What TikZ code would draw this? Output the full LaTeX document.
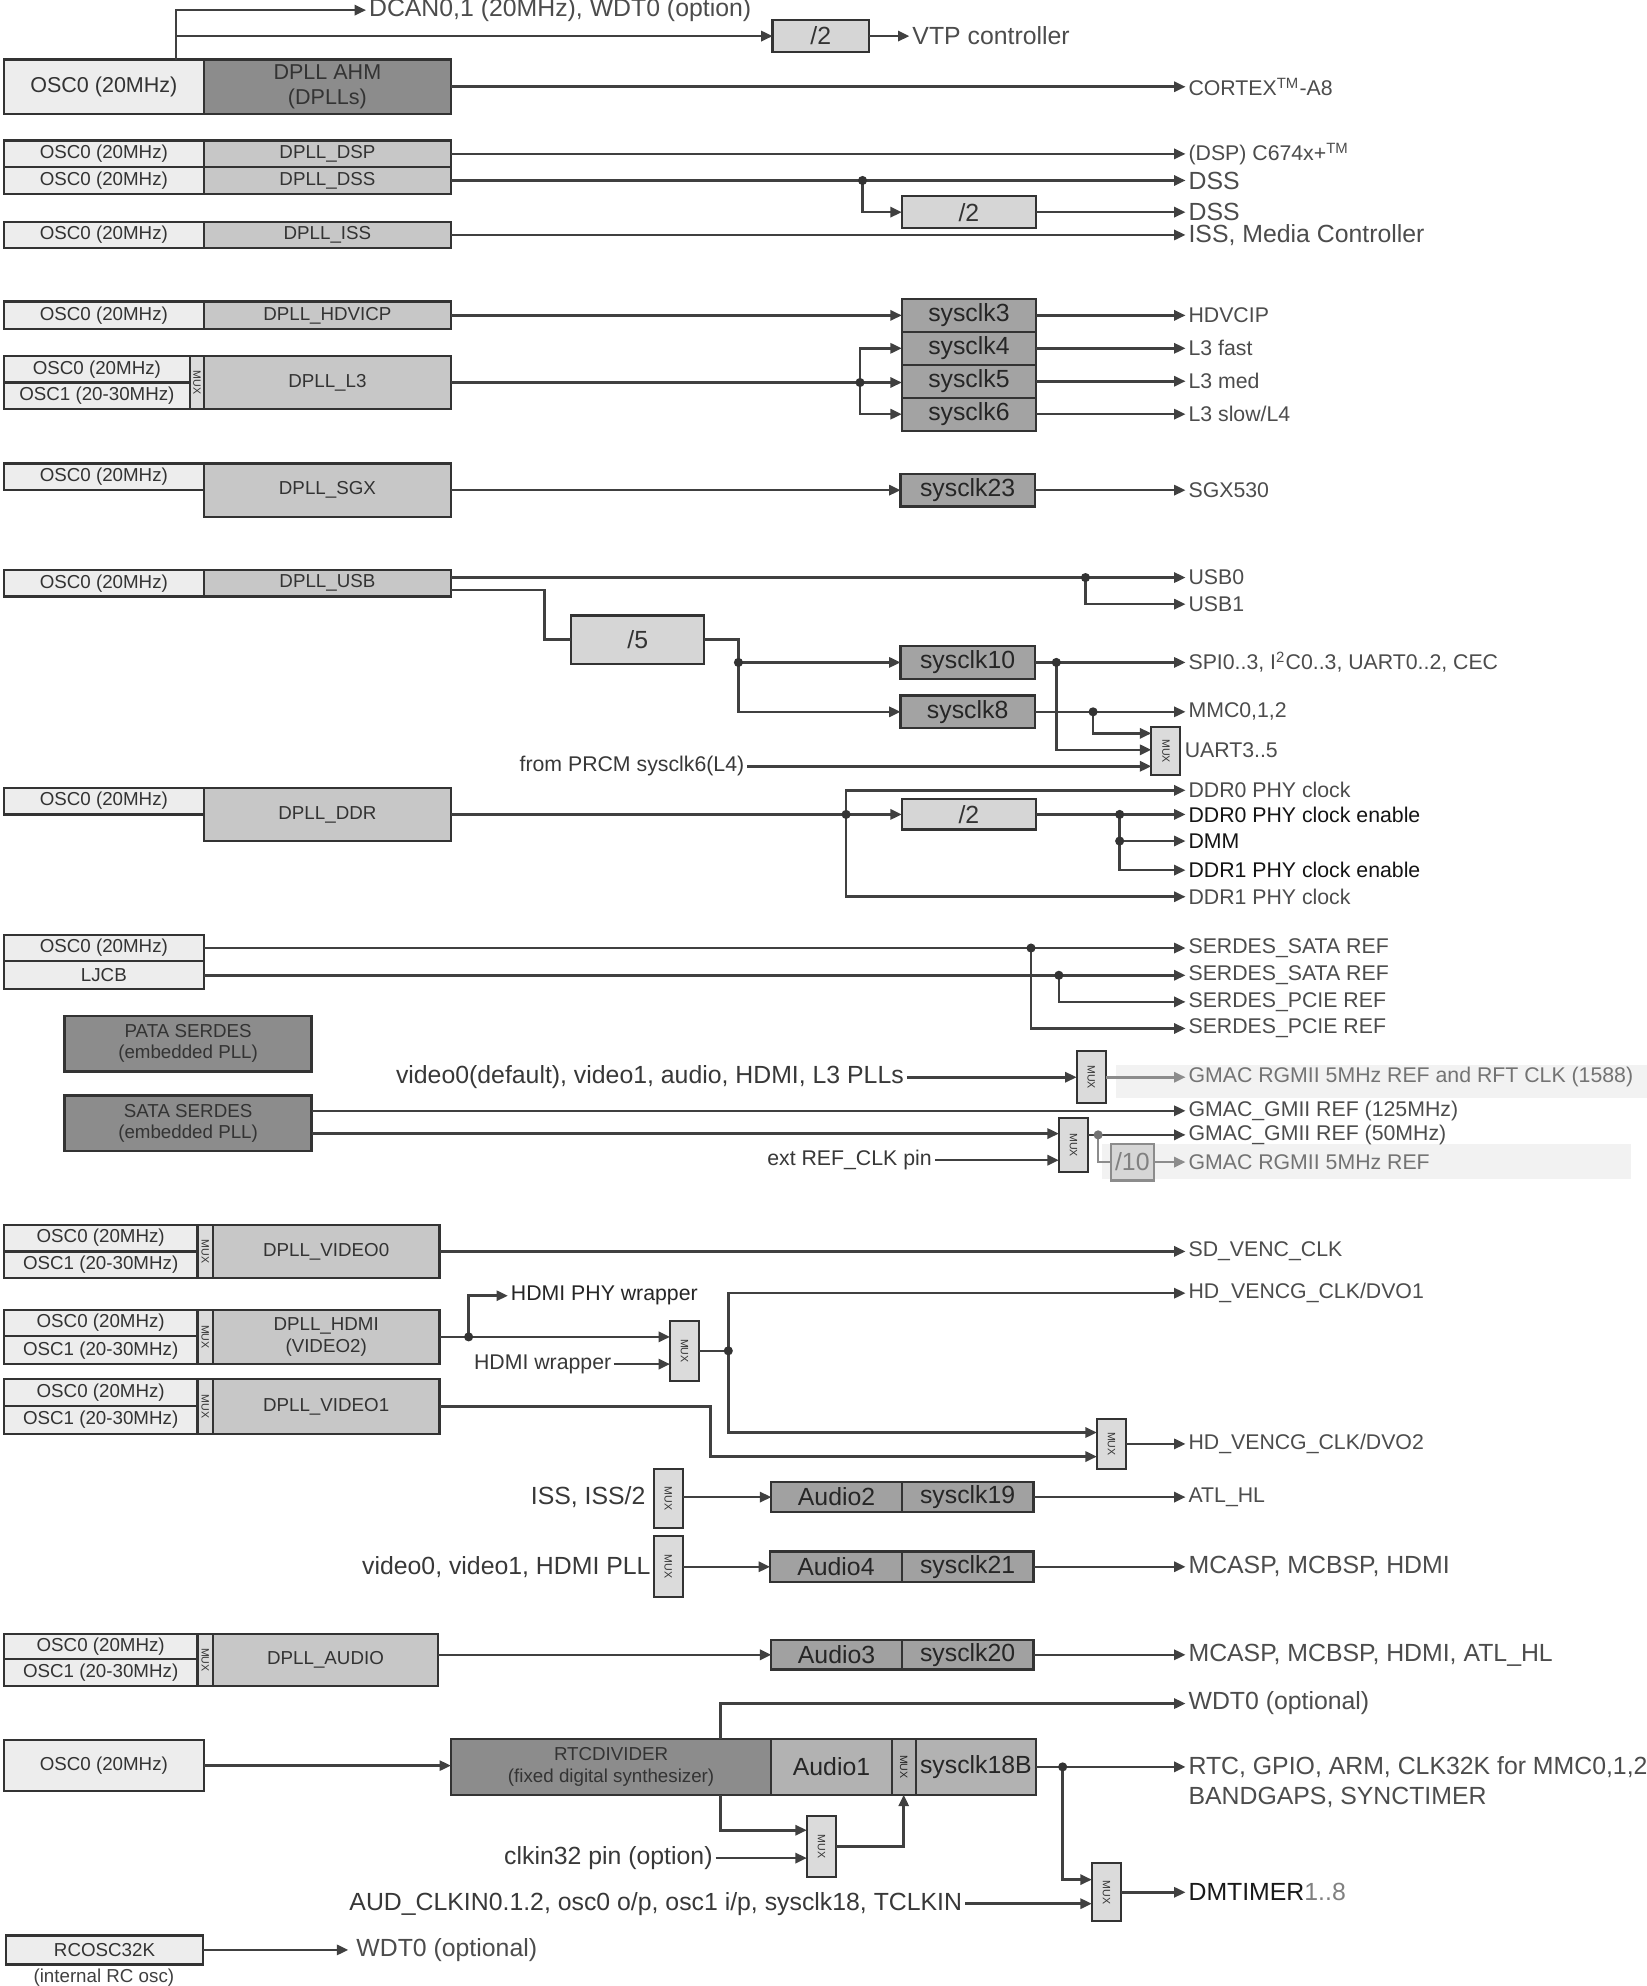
\documentclass[tikz,border=0pt]{standalone}
\usepackage{fontspec}
\setmainfont{Liberation Sans}
\usepackage{graphicx}
\usetikzlibrary{arrows.meta}
\newcommand\ftBox{\fontsize{7.4}{8.4}\selectfont}
\newcommand\ftMid{\fontsize{8.5}{10}\selectfont}
\newcommand\ftSys{\fontsize{9.8}{11}\selectfont}
\newcommand\ftSm{\fontsize{8.4}{10}\selectfont}
\newcommand\ftLg{\fontsize{9.8}{11.5}\selectfont}
\newcommand\ftMux{\fontsize{4.2}{5}\selectfont}
\newcommand\muxt{\rotatebox{-90}{\ftMux MUX}}
\definecolor{cOsc}{gray}{0.93}
\definecolor{cDpll}{gray}{0.78}
\definecolor{cDark}{gray}{0.55}
\definecolor{cSys}{gray}{0.64}
\definecolor{cDiv}{gray}{0.84}
\definecolor{cAud}{gray}{0.63}
\definecolor{cAudA}{gray}{0.70}
\definecolor{cMux}{gray}{0.86}
\newcommand\bx[7]{%
 \pgfmathsetmacro\bxw{(#4-#2)*0.5}%
 \pgfmathsetmacro\bxh{(#5-#3)*0.5}%
 \node[#6, minimum width=\bxw pt, minimum height=\bxh pt] (#1) at ({(#2+#4)/2},{(#3+#5)/2}) {#7};}
\tikzset{
 bb/.style={draw=black!80, line width=0.9pt, inner sep=0pt, outer sep=0pt, align=center, text=black!80, font=\ftBox},
 osc/.style={bb, fill=cOsc},
 dpll/.style={bb, fill=cDpll},
 dark/.style={bb, fill=cDark},
 sys/.style={bb, fill=cSys, font=\ftSys, text=black!85},
 div/.style={bb, fill=cDiv, font=\ftSys},
 aud/.style={bb, fill=cAud, font=\ftSys, text=black!85},
 audA/.style={bb, fill=cAudA, font=\ftSys, text=black!85},
 mux/.style={bb, fill=cMux, line width=0.8pt},
 wire/.style={draw=black!75, line width=1pt},
 gwire/.style={draw=black!45, line width=1pt},
 arr/.style={wire, -{Triangle[length=4.5pt,width=4pt]}},
 garr/.style={gwire, -{Triangle[length=4.5pt,width=4pt]}},
 lbl/.style={anchor=west, inner sep=1pt, text=black!70, font=\ftSm},
 lblL/.style={lbl, font=\ftLg},
 lblD/.style={lbl, text=black!92},
 lbe/.style={anchor=east, inner sep=1pt, text=black!78, font=\ftLg},
 dot/.style={fill=black!80},
}
\begin{document}
\begin{tikzpicture}[x=0.5pt,y=-0.5pt]
\path[use as bounding box, fill=white] (0,0) rectangle (1300,1568);
% shaded backgrounds
\fill[black!5] (881,841) rectangle (1300,867);
\fill[black!5] (870,903) rectangle (1288,931);

% ---------- AHM
\bx{oscA}{3}{47}{161}{90}{osc,font=\ftMid}{OSC0 (20MHz)}
\bx{ahm}{161}{47}{356}{90}{dark,font=\ftMid}{DPLL AHM\\(DPLLs)}
\coordinate (t1) at (139,8);
\coordinate (t2) at (139,28.5);
\node[lblL] (dcan) at (289,8) {DCAN0,1 (20MHz), WDT0 (option)};
\bx{dvA}{610}{16}{686}{41}{div}{/2}
\node[lblL] (vtp) at (718,28.5) {VTP controller};
\draw[arr] (oscA.north -| t1) -- (t1) -- (dcan.west);
\draw[arr] (t2) -- (dvA.west);
\draw[arr] (dvA.east) -- (vtp.west);
\node[lbl] (cortex) at (936,68.5) {CORTEX\textsuperscript{TM}-A8};
\draw[arr] (ahm.east) -- (cortex.west);

% ---------- DSP / DSS
\bx{oscB}{3}{111}{161}{132}{osc}{OSC0 (20MHz)}
\bx{dsp}{161}{111}{356}{132}{dpll}{DPLL\_DSP}
\bx{oscC}{3}{132}{161}{153}{osc}{OSC0 (20MHz)}
\bx{dss}{161}{132}{356}{153}{dpll}{DPLL\_DSS}
\node[lbl] (dspo) at (936,121.5) {(DSP) C674x+\textsuperscript{TM}};
\node[lblL] (dssA) at (936,142.5) {DSS};
\bx{dvB}{712}{155}{818}{180}{div}{/2}
\node[lblL] (dssB) at (936,167.5) {DSS};
\coordinate (j1) at (681,142.5);
\draw[arr] (dsp.east) -- (dspo.west);
\draw[arr] (dss.east) -- (dssA.west);
\draw[arr] (j1) |- (dvB.west);
\draw[arr] (dvB.east) -- (dssB.west);
\fill[dot] (j1) circle (1.8pt);

% ---------- ISS
\bx{oscD}{3}{175}{161}{196}{osc}{OSC0 (20MHz)}
\bx{iss}{161}{175}{356}{196}{dpll}{DPLL\_ISS}
\node[lblL] (isso) at (936,185.5) {ISS, Media Controller};
\draw[arr] (iss.east) -- (isso.west);

% ---------- HDVICP
\bx{oscE}{3}{238}{161}{260}{osc}{OSC0 (20MHz)}
\bx{hdv}{161}{238}{356}{260}{dpll}{DPLL\_HDVICP}
\bx{sA}{712}{236}{818}{262}{sys}{sysclk3}
\bx{sB}{712}{262}{818}{288}{sys}{sysclk4}
\bx{sC}{712}{288}{818}{314}{sys}{sysclk5}
\bx{sD}{712}{314}{818}{340}{sys}{sysclk6}
\node[lbl] (hdvo) at (936,249) {HDVCIP};
\draw[arr] (hdv.east) -- (sA.west);
\draw[arr] (sA.east) -- (hdvo.west);

% ---------- L3
\bx{oscF}{3}{281}{150}{302}{osc}{OSC0 (20MHz)}
\bx{oscG}{3}{302}{150}{323}{osc}{OSC1 (20-30MHz)}
\bx{muxF}{150}{281}{161}{323}{mux}{\muxt}
\bx{l3}{161}{281}{356}{323}{dpll}{DPLL\_L3}
\coordinate (j2) at (679,302);
\draw[arr] (l3.east) -- (sC.west |- l3.east);
\draw[arr] (j2) |- (sB.west);
\draw[arr] (j2) |- (sD.west);
\fill[dot] (j2) circle (1.8pt);
\node[lbl] (l3f) at (936,275) {L3 fast};
\node[lbl] (l3m) at (936,301) {L3 med};
\node[lbl] (l3s) at (936,327) {L3 slow/L4};
\draw[arr] (sB.east) -- (l3f.west);
\draw[arr] (sC.east) -- (l3m.west);
\draw[arr] (sD.east) -- (l3s.west);

% ---------- SGX
\bx{oscH}{3}{366}{161}{387}{osc}{OSC0 (20MHz)}
\bx{sgx}{161}{366}{356}{408}{dpll}{DPLL\_SGX}
\bx{sE}{711}{374}{817}{400}{sys}{sysclk23}
\node[lbl] (sgxo) at (936,387) {SGX530};
\draw[arr] (sgx.east) -- (sE.west);
\draw[arr] (sE.east) -- (sgxo.west);

% ---------- USB
\bx{oscI}{3}{450}{161}{471}{osc}{OSC0 (20MHz)}
\bx{usb}{161}{450}{356}{471}{dpll}{DPLL\_USB}
\node[lbl] (usbA) at (936,456) {USB0};
\node[lbl] (usbB) at (936,477) {USB1};
\coordinate (j3) at (857,456);
\draw[arr] (usb.east |- usbA.west) -- (usbA.west);
\draw[arr] (j3) |- (usbB.west);
\fill[dot] (j3) circle (1.8pt);
\bx{dvC}{451}{486}{556}{524}{div}{/5}
\coordinate (u1) at (430,466);
\draw[wire] (usb.east |- u1) -- (u1) |- (dvC.west);
\coordinate (j4) at (583,523);
\bx{sF}{711}{510}{817}{536}{sys}{sysclk10}
\bx{sG}{711}{549}{817}{575}{sys}{sysclk8}
\draw[wire] (dvC.east) -| (j4);
\draw[arr] (j4) -- (sF.west);
\draw[arr] (j4) |- (sG.west);
\fill[dot] (j4) circle (1.8pt);
\node[lbl] (spi) at (936,523) {SPI0..3, I\textsuperscript{2}C0..3, UART0..2, CEC};
\node[lbl] (mmc) at (936,562) {MMC0,1,2};
\draw[arr] (sF.east) -- (spi.west);
\draw[arr] (sG.east) -- (mmc.west);
\coordinate (j5) at (834,523);
\coordinate (j6) at (863,562);
\bx{muxU}{909}{574}{932}{612}{mux}{\muxt}
\coordinate (mu1) at (909,579);
\coordinate (mu2) at (909,592);
\coordinate (mu3) at (909,605);
\draw[arr] (j6) |- (mu1);
\draw[arr] (j5) |- (mu2);
\fill[dot] (j5) circle (1.8pt);
\fill[dot] (j6) circle (1.8pt);
\node[lbe, font=\ftSm] (prcm) at (590,605) {from PRCM sysclk6(L4)};
\draw[arr] (prcm.east) -- (mu3);
\node[lbl] (uart) at (933,592) {UART3..5};

% ---------- DDR
\bx{oscJ}{3}{622}{161}{643}{osc}{OSC0 (20MHz)}
\bx{ddr}{161}{622}{356}{664}{dpll}{DPLL\_DDR}
\bx{dvD}{712}{631}{818}{655}{div}{/2}
\coordinate (j7) at (668,643);
\draw[arr] (ddr.east) -- (dvD.west);
\node[lbl] (ddrA) at (936,624) {DDR0 PHY clock};
\node[lbl] (ddrB) at (936,708) {DDR1 PHY clock};
\draw[arr] (j7) |- (ddrA.west);
\draw[arr] (j7) |- (ddrB.west);
\fill[dot] (j7) circle (1.8pt);
\node[lblD] (ddrAe) at (936,643) {DDR0 PHY clock enable};
\node[lblD] (dmm) at (936,664) {DMM};
\node[lblD] (ddrBe) at (936,687) {DDR1 PHY clock enable};
\coordinate (j8) at (884,643);
\coordinate (j9) at (884,664);
\draw[arr] (dvD.east) -- (ddrAe.west);
\draw[arr] (j9) -- (dmm.west);
\draw[arr] (j8) |- (ddrBe.west);
\fill[dot] (j8) circle (1.8pt);
\fill[dot] (j9) circle (1.8pt);

% ---------- SERDES refs
\bx{oscK}{3}{738}{161}{759}{osc}{OSC0 (20MHz)}
\bx{ljcb}{3}{759}{161}{781}{osc}{LJCB}
\node[lbl] (sataA) at (936,748.5) {SERDES\_SATA REF};
\node[lbl] (sataB) at (936,770) {SERDES\_SATA REF};
\node[lbl] (pcieA) at (936,791) {SERDES\_PCIE REF};
\node[lbl] (pcieB) at (936,812) {SERDES\_PCIE REF};
\coordinate (j10) at (814,748.5);
\coordinate (j11) at (836,770);
\draw[arr] (oscK.east) -- (sataA.west);
\draw[arr] (ljcb.east) -- (sataB.west);
\draw[arr] (j11) |- (pcieA.west);
\draw[arr] (j10) |- (pcieB.west);
\fill[dot] (j10) circle (1.8pt);
\fill[dot] (j11) circle (1.8pt);

% ---------- PATA / SATA SERDES, GMAC
\bx{pata}{51}{802}{246}{846}{dark}{PATA SERDES\\(embedded PLL)}
\bx{sata}{51}{865}{246}{909}{dark}{SATA SERDES\\(embedded PLL)}
\bx{muxA}{850}{830}{873}{871}{mux}{\muxt}
\node[lbe] (vid) at (716,850.5) {video0(default), video1, audio, HDMI, L3 PLLs};
\draw[arr] (vid.east) -- (muxA.west |- vid.east);
\node[lbl, text=black!55] (gmacr) at (936,850.5) {GMAC RGMII 5MHz REF and RFT CLK (1588)};
\draw[garr] (muxA.east |- gmacr.west) -- (gmacr.west);
\node[lbl] (gmacA) at (936,877) {GMAC\_GMII REF (125MHz)};
\draw[arr] (sata.east |- gmacA.west) -- (gmacA.west);
\bx{muxB}{836}{883}{859}{925}{mux}{\muxt}
\coordinate (mb1) at (836,895);
\coordinate (mb2) at (836,916);
\draw[arr] (sata.east |- mb1) -- (mb1);
\node[lbe, font=\ftSm] (extref) at (738,916) {ext REF\_CLK pin};
\draw[arr] (extref.east) -- (mb2);
\coordinate (j12) at (867,896);
\node[lbl] (gmacB) at (936,896) {GMAC\_GMII REF (50MHz)};
\draw[arr] (muxB.east |- j12) -- (gmacB.west);
\bx{dvE}{877}{903}{911}{932}{div, draw=black!45, text=black!50, font=\ftLg}{/10}
\draw[gwire] (j12) |- (dvE.west);
\fill[black!55] (j12) circle (1.8pt);
\node[lbl, text=black!55] (gmacC) at (936,917.5) {GMAC RGMII 5MHz REF};
\draw[garr] (dvE.east) -- (gmacC.west);

% ---------- VIDEO0
\bx{oscL}{3}{967}{156}{988}{osc}{OSC0 (20MHz)}
\bx{oscM}{3}{988}{156}{1009}{osc}{OSC1 (20-30MHz)}
\bx{muxL}{156}{967}{168}{1009}{mux}{\muxt}
\bx{vzero}{168}{967}{347}{1009}{dpll}{DPLL\_VIDEO0}
\node[lbl] (sdv) at (936,988) {SD\_VENC\_CLK};
\draw[arr] (vzero.east) -- (sdv.west);

% ---------- HDMI
\bx{oscN}{3}{1034}{156}{1055}{osc}{OSC0 (20MHz)}
\bx{oscO}{3}{1055}{156}{1077}{osc}{OSC1 (20-30MHz)}
\bx{muxN}{156}{1034}{168}{1077}{mux}{\muxt}
\bx{hdmi}{168}{1034}{347}{1077}{dpll}{DPLL\_HDMI\\(VIDEO2)}
\coordinate (j13) at (370,1055.5);
\node[lbl, font=\ftSm, text=black!85] (hphy) at (401,1023) {HDMI PHY wrapper};
\draw[arr] (j13) |- (hphy.west);
\bx{muxC}{529}{1043}{552}{1090}{mux}{\muxt}
\draw[arr] (hdmi.east) -- (muxC.west |- hdmi.east);
\fill[dot] (j13) circle (1.8pt);
\node[lbe, font=\ftSm] (hwr) at (485,1077) {HDMI wrapper};
\draw[arr] (hwr.east) -- (muxC.west |- hwr.east);
\coordinate (j14) at (575,1066.5);
\draw[wire] (muxC.east) -- (j14);
\node[lbl] (dvoA) at (936,1021) {HD\_VENCG\_CLK/DVO1};
\draw[arr] (j14) |- (dvoA.west);
\bx{muxD}{866}{1120}{889}{1160}{mux}{\muxt}
\coordinate (md1) at (866,1131);
\coordinate (md2) at (866,1150);
\draw[arr] (j14) |- (md1);
\fill[dot] (j14) circle (1.8pt);
\node[lbl] (dvoB) at (936,1140) {HD\_VENCG\_CLK/DVO2};
\draw[arr] (muxD.east) -- (dvoB.west);

% ---------- VIDEO1
\bx{oscP}{3}{1089}{156}{1110}{osc}{OSC0 (20MHz)}
\bx{oscQ}{3}{1110}{156}{1132}{osc}{OSC1 (20-30MHz)}
\bx{muxP}{156}{1089}{168}{1132}{mux}{\muxt}
\bx{vone}{168}{1089}{347}{1132}{dpll}{DPLL\_VIDEO1}
\coordinate (v1c) at (561,1110.5);
\draw[arr] (vone.east) -- (v1c) |- (md2);

% ---------- Audio2
\bx{muxE}{516}{1160}{539}{1206}{mux}{\muxt}
\node[lbe] (isslb) at (512,1182) {ISS, ISS/2};
\bx{aB}{609}{1170}{712}{1194}{aud}{Audio2}
\bx{sH}{712}{1170}{816}{1194}{aud}{sysclk19}
\draw[arr] (muxE.east |- aB.west) -- (aB.west);
\node[lbl] (atl) at (936,1182) {ATL\_HL};
\draw[arr] (sH.east) -- (atl.west);

% ---------- Audio4
\bx{muxG}{516}{1213}{539}{1261}{mux}{\muxt}
\node[lbe] (vidlb) at (516,1237) {video0, video1, HDMI PLL};
\bx{aD}{608}{1225}{712}{1249}{aud}{Audio4}
\bx{sI}{712}{1225}{816}{1249}{aud}{sysclk21}
\draw[arr] (muxG.east |- aD.west) -- (aD.west);
\node[lblL] (mcA) at (936,1237) {MCASP, MCBSP, HDMI};
\draw[arr] (sI.east) -- (mcA.west);

% ---------- DPLL_AUDIO
\bx{oscR}{3}{1290}{156}{1310}{osc}{OSC0 (20MHz)}
\bx{oscS}{3}{1310}{156}{1331}{osc}{OSC1 (20-30MHz)}
\bx{muxR}{156}{1290}{168}{1331}{mux}{\muxt}
\bx{dpaud}{168}{1290}{346}{1331}{dpll}{DPLL\_AUDIO}
\bx{aC}{609}{1295}{712}{1318}{aud}{Audio3}
\bx{sJ}{712}{1295}{816}{1318}{aud}{sysclk20}
\draw[arr] (dpaud.east |- aC.west) -- (aC.west);
\node[lblL] (mcB) at (936,1306.5) {MCASP, MCBSP, HDMI, ATL\_HL};
\draw[arr] (sJ.east) -- (mcB.west);

% ---------- RTC
\bx{oscT}{3}{1374}{161}{1414}{osc}{OSC0 (20MHz)}
\bx{rtc}{356}{1373}{609}{1417}{dark}{RTCDIVIDER\\(fixed digital synthesizer)}
\bx{aA}{609}{1373}{704}{1417}{audA}{Audio1}
\bx{muxS}{704}{1373}{723}{1417}{audA}{\muxt}
\bx{sK}{723}{1373}{818}{1417}{audA}{sysclk18B}
\draw[arr] (oscT.east) -- (oscT.east -| rtc.west);
\coordinate (r1) at (569,1345);
\node[lblL] (wdtA) at (936,1345) {WDT0 (optional)};
\draw[arr] (rtc.north -| r1) -- (r1) -- (wdtA.west);
\bx{muxT}{637}{1434}{660}{1482}{mux}{\muxt}
\coordinate (mt1) at (637,1445);
\coordinate (mt2) at (637,1467);
\draw[arr] (rtc.south -| r1) |- (mt1);
\node[lbe] (clkin) at (565,1467) {clkin32 pin (option)};
\draw[arr] (clkin.east) -- (mt2);
\draw[arr] (muxT.east) -| (muxS.south);
\node[lblL] (rtco) at (936,1395) {RTC, GPIO, ARM, CLK32K for MMC0,1,2};
\node[lblL] (bandg) at (936,1419) {BANDGAPS, SYNCTIMER};
\coordinate (j15) at (839,1395);
\draw[arr] (sK.east) -- (rtco.west);
\bx{muxV}{862}{1471}{885}{1517}{mux}{\muxt}
\coordinate (mv1) at (862,1484);
\coordinate (mv2) at (862,1503);
\draw[arr] (j15) |- (mv1);
\fill[dot] (j15) circle (1.8pt);
\node[lbe] (audk) at (762,1503) {AUD\_CLKIN0.1.2, osc0 o/p, osc1 i/p, sysclk18, TCLKIN};
\draw[arr] (audk.east) -- (mv2);
\node[lblL, text=black!90] (dmt) at (936,1494) {DMTIMER{\color{black!50}1..8}};
\draw[arr] (muxV.east) -- (dmt.west);

% ---------- RCOSC32K
\bx{rco}{5}{1528}{160}{1551}{osc}{RCOSC32K}
\node[font=\ftBox, text=black!75, inner sep=0pt] (rcl) at (82,1561) {(internal RC osc)};
\node[lblL, inner xsep=3pt] (wdtB) at (275,1539.5) {WDT0 (optional)};
\draw[arr] (rco.east) -- (wdtB.west);
\end{tikzpicture}
\end{document}
